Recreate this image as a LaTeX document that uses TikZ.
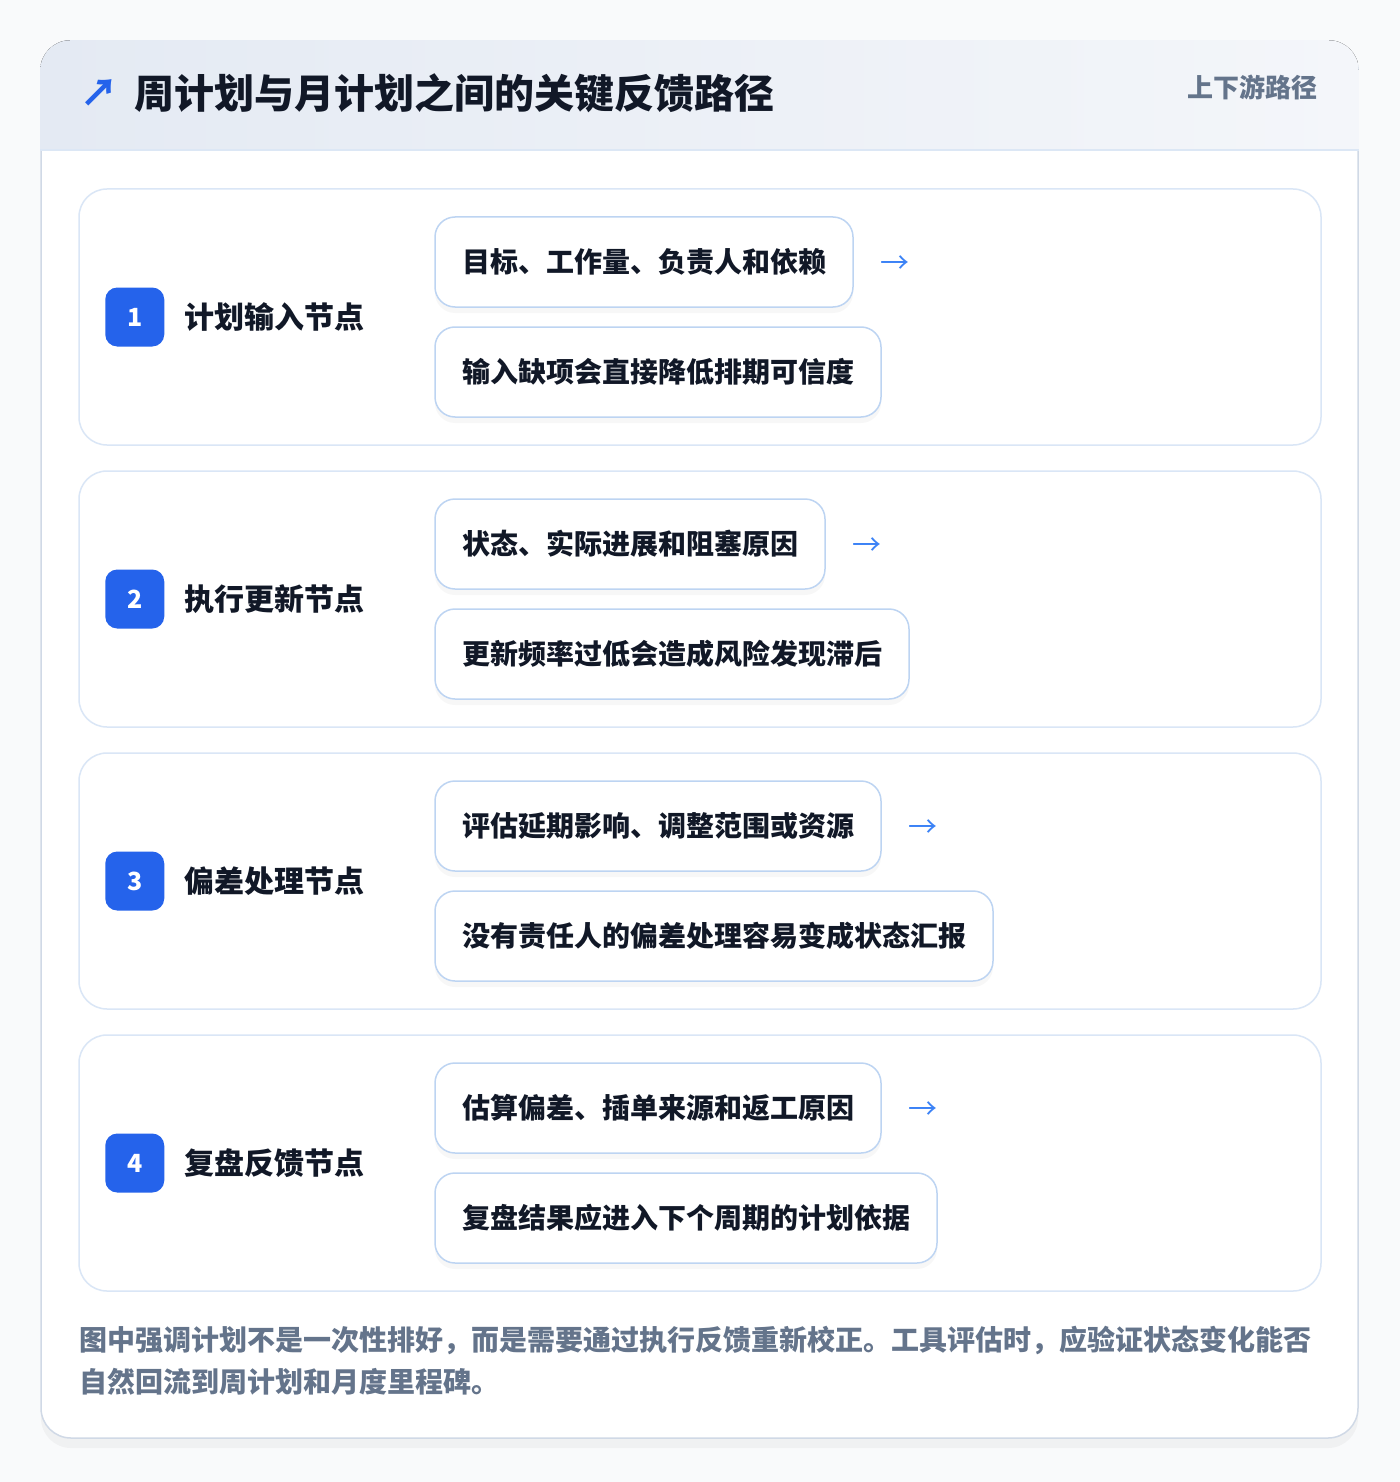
\documentclass[tikz,border=0pt]{standalone}
\usepackage{fontspec}
\setmainfont{Noto Sans CJK SC}
\usetikzlibrary{shadows}
\definecolor{pagebg}{HTML}{F9FAFB}
\definecolor{cardline}{HTML}{D0D9E6}
\definecolor{headleft}{HTML}{E4EAF3}
\definecolor{headright}{HTML}{F4F6FA}
\definecolor{headline}{HTML}{DCE7F5}
\definecolor{rowline}{HTML}{DAE6F6}
\definecolor{pillline}{HTML}{BDD4F2}
\definecolor{badgeblue}{HTML}{2563EB}
\definecolor{flowblue}{HTML}{3B82F6}
\definecolor{ink}{HTML}{111827}
\definecolor{slate}{HTML}{64748B}

\begin{document}
\begin{tikzpicture}[x=0.5pt,y=-0.5pt,
	rowbox/.style={draw=rowline,line width=0.75pt,fill=white,rounded corners=14pt,minimum width=621pt,minimum height=128pt},
	badge/.style={fill=badgeblue,rounded corners=6pt,minimum size=29.5pt,inner sep=0pt,text=white,font=\fontsize{12.5pt}{14pt}\selectfont\bfseries},
	rowtitle/.style={anchor=west,inner sep=0pt,text=ink,font=\fontsize{15pt}{18pt}\selectfont\bfseries},
	pill/.style={anchor=west,draw=pillline,line width=0.75pt,fill=white,rounded corners=10pt,minimum height=45pt,inner xsep=13.5pt,inner ysep=0pt,text=ink,font=\fontsize{14pt}{17pt}\selectfont\bfseries,drop shadow={opacity=0.06,shadow xshift=0pt,shadow yshift=-3pt}},
	flow/.style={anchor=west,inner sep=0pt,text=flowblue,font=\fontsize{14.5pt}{17pt}\selectfont}]
	\fill [pagebg] (0,0) rectangle (1400,1482);
	\useasboundingbox (0,0) rectangle (1400,1482);

	\node [draw=cardline,line width=0.75pt,fill=white,rounded corners=15pt,minimum width=658.5pt,minimum height=698.5pt,drop shadow={opacity=0.07,shadow xshift=0pt,shadow yshift=-5pt}] (card) at (699.5,739.5) {};
	\begin{scope}
		\clip [rounded corners=15pt] (card.south west) rectangle (card.north east);
		\fill [left color=headleft,right color=headright] (card.north west) rectangle ([yshift=-55pt]card.north east);
	\end{scope}
	\draw [headline,line width=0.75pt] ([yshift=-55pt]card.north west) -- ([yshift=-55pt]card.north east);
	\node [anchor=center,inner sep=0pt,text=badgeblue,font=\fontsize{19pt}{22pt}\selectfont\bfseries] (mark) at (99,93) {↗};
	\node [anchor=west,inner sep=0pt,text=ink,font=\fontsize{20pt}{24pt}\selectfont\bfseries] (heading) at (134,93) {周计划与月计划之间的关键反馈路径};
	\node [anchor=east,inner sep=0pt,text=slate,font=\fontsize{13pt}{15pt}\selectfont\bfseries] (scope) at (1318,87) {上下游路径};

	\node [rowbox] (row1) at (700,317) {};
	\node [badge] (badge1) at ([xshift=28.25pt]row1.west) {1};
	\node [rowtitle] (title1) at ([xshift=9.5pt]badge1.east) {计划输入节点};
	\node [pill] (pill1a) at ([xshift=178pt,yshift=27.5pt]row1.west) {目标、工作量、负责人和依赖};
	\node [pill] (pill1b) at ([xshift=178pt,yshift=-27.5pt]row1.west) {输入缺项会直接降低排期可信度};
	\node [flow] (next1) at ([xshift=13pt,yshift=-1.5pt]pill1a.east) {→};

	\node [rowbox] (row2) at (700,599) {};
	\node [badge] (badge2) at ([xshift=28.25pt]row2.west) {2};
	\node [rowtitle] (title2) at ([xshift=9.5pt]badge2.east) {执行更新节点};
	\node [pill] (pill2a) at ([xshift=178pt,yshift=27.5pt]row2.west) {状态、实际进展和阻塞原因};
	\node [pill] (pill2b) at ([xshift=178pt,yshift=-27.5pt]row2.west) {更新频率过低会造成风险发现滞后};
	\node [flow] (next2) at ([xshift=13pt,yshift=-1.5pt]pill2a.east) {→};

	\node [rowbox] (row3) at (700,881) {};
	\node [badge] (badge3) at ([xshift=28.25pt]row3.west) {3};
	\node [rowtitle] (title3) at ([xshift=9.5pt]badge3.east) {偏差处理节点};
	\node [pill] (pill3a) at ([xshift=178pt,yshift=27.5pt]row3.west) {评估延期影响、调整范围或资源};
	\node [pill] (pill3b) at ([xshift=178pt,yshift=-27.5pt]row3.west) {没有责任人的偏差处理容易变成状态汇报};
	\node [flow] (next3) at ([xshift=13pt,yshift=-1.5pt]pill3a.east) {→};

	\node [rowbox] (row4) at (700,1163) {};
	\node [badge] (badge4) at ([xshift=28.25pt]row4.west) {4};
	\node [rowtitle] (title4) at ([xshift=9.5pt]badge4.east) {复盘反馈节点};
	\node [pill] (pill4a) at ([xshift=178pt,yshift=27.5pt]row4.west) {估算偏差、插单来源和返工原因};
	\node [pill] (pill4b) at ([xshift=178pt,yshift=-27.5pt]row4.west) {复盘结果应进入下个周期的计划依据};
	\node [flow] (next4) at ([xshift=13pt,yshift=-1.5pt]pill4a.east) {→};

	\node [anchor=base west,inner sep=0pt,text=slate,font=\fontsize{14pt}{17pt}\selectfont\bfseries] (note1) at (79,1350) {图中强调计划不是一次性排好，而是需要通过执行反馈重新校正。工具评估时，应验证状态变化能否};
	\node [anchor=base west,inner sep=0pt,text=slate,font=\fontsize{14pt}{17pt}\selectfont\bfseries] (note2) at (79,1392) {自然回流到周计划和月度里程碑。};
\end{tikzpicture}
\end{document}
